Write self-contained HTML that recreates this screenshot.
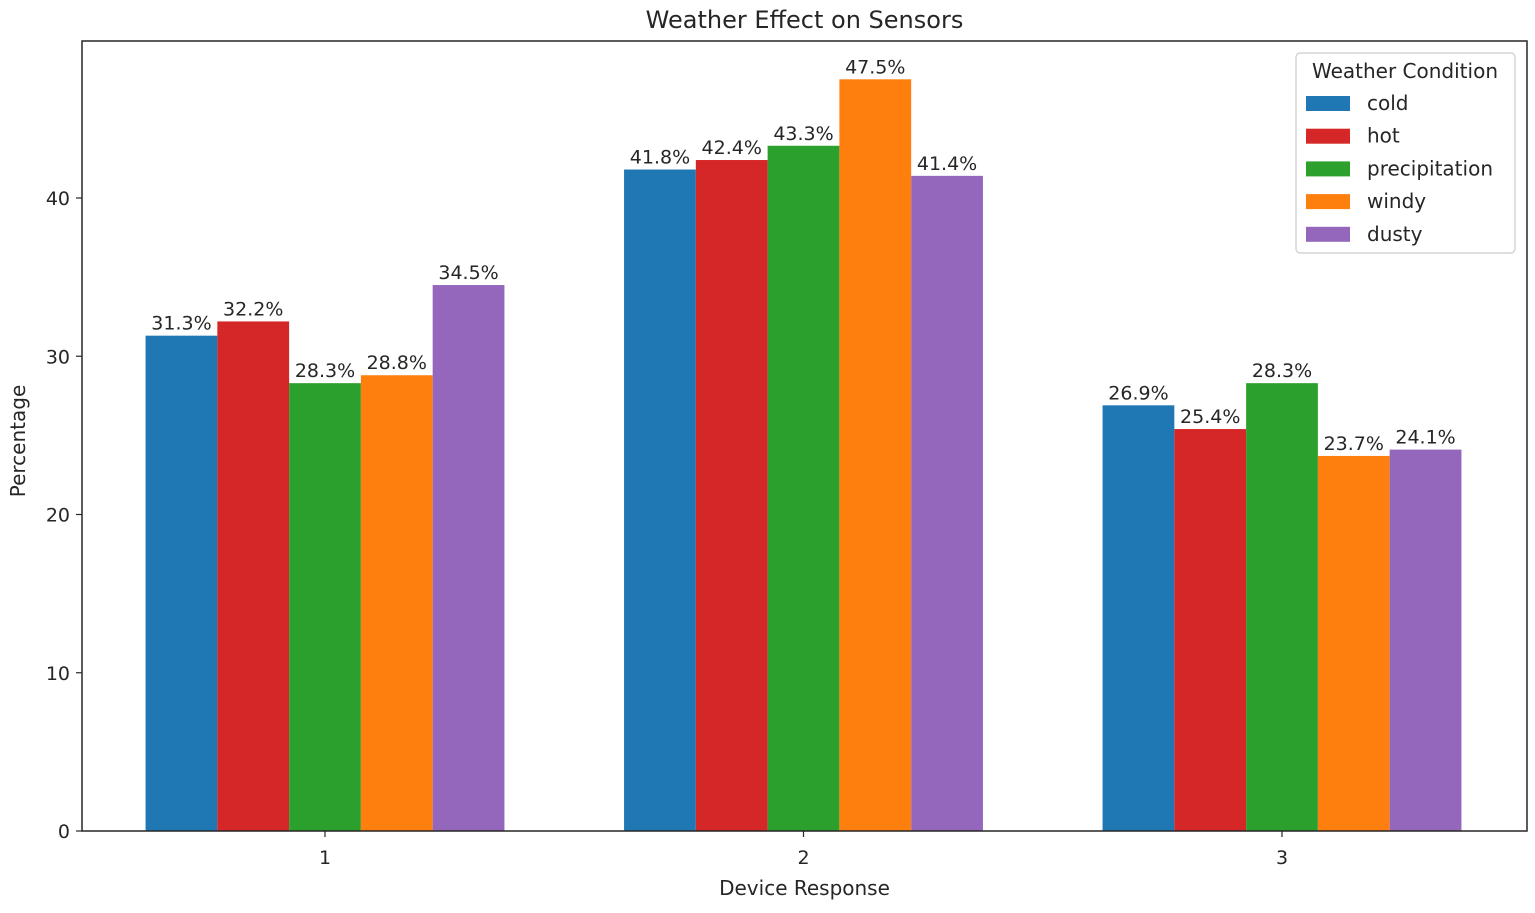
<!DOCTYPE html>
<html><head><meta charset="utf-8"><style>
body{margin:0;background:#fff;}
svg text{font-family:"DejaVu Sans","Liberation Sans",sans-serif;fill:#262626;}
</style></head><body>
<svg width="1535" height="908" viewBox="0 0 1535 908">
<g id="plot"></g>
</svg>
<script>
const categories = ["1","2","3"];
const seriesNames = ["cold","hot","precipitation","windy","dusty"];
const colors = ["#1f77b4","#d62728","#2ca02c","#ff7f0e","#9467bd"];
const cold = [31.3,41.8,26.9];
const hot = [32.2,42.4,25.4];
const precipitation = [28.3,43.3,28.3];
const windy = [28.8,47.5,23.7];
const dusty = [34.5,41.4,24.1];
const yTicks = [0,10,20,30,40];
const series = [cold,hot,precipitation,windy,dusty];

const L=82,R=1527,T=41,B=831;
const x=v=>325+v*478.5;
const y=v=>B-v*15.825;
const NS="http://www.w3.org/2000/svg";
const g=document.getElementById('plot');
function mk(tag,attrs,text){const e=document.createElementNS(NS,tag);for(const k in attrs)e.setAttribute(k,attrs[k]);if(text!==undefined)e.textContent=text;g.appendChild(e);return e;}

const bw=0.15;
series.forEach((s,si)=>{
  s.forEach((v,ci)=>{
    const cx=ci+(si-2)*bw;
    const r=mk('rect',{x:x(cx-bw/2),y:y(v),width:x(cx+bw/2)-x(cx-bw/2),height:y(0)-y(v),fill:colors[si]});
    
    
    const t=mk('text',{x:x(cx),y:y(v)-6,'text-anchor':'middle','font-size':'19'},v.toFixed(1)+'%');
    
    
  });
});
const fr=mk('rect',{x:L,y:T,width:R-L,height:B-T,fill:'none',stroke:'#262626','stroke-width':1.5});


yTicks.forEach(v=>{
  mk('line',{x1:L-6,x2:L,y1:y(v),y2:y(v),stroke:'#262626','stroke-width':1.2});
  const t=mk('text',{x:L-12,y:y(v)+7,'text-anchor':'end','font-size':'19'},String(v));
  
  
});
categories.forEach((c,i)=>{
  mk('line',{x1:x(i),x2:x(i),y1:B,y2:B+6,stroke:'#262626','stroke-width':1.2});
  const t=mk('text',{x:x(i),y:B+33,'text-anchor':'middle','font-size':'19'},c);
  
  
});
let t=mk('text',{x:(L+R)/2,y:28,'text-anchor':'middle','font-size':'24'},'Weather Effect on Sensors');

t=mk('text',{x:(L+R)/2,y:895,'text-anchor':'middle','font-size':'20'},'Device Response');

t=mk('text',{x:0,y:0,'text-anchor':'middle','font-size':'20',transform:'translate(25,441) rotate(-90)'},'Percentage');

const lg=mk('rect',{x:1296,y:53,width:219,height:200,rx:4,fill:'#fff',stroke:'#ccc','stroke-width':1.2});

t=mk('text',{x:1405,y:78,'text-anchor':'middle','font-size':'20'},'Weather Condition');

seriesNames.forEach((n,i)=>{
  const yy=103+i*32.7;
  const p=mk('rect',{x:1306,y:yy-7,width:44,height:15,fill:colors[i]});
  
  const lt=mk('text',{x:1367,y:yy+7,'font-size':'20'},n);
  
});
</script>
</body></html>
